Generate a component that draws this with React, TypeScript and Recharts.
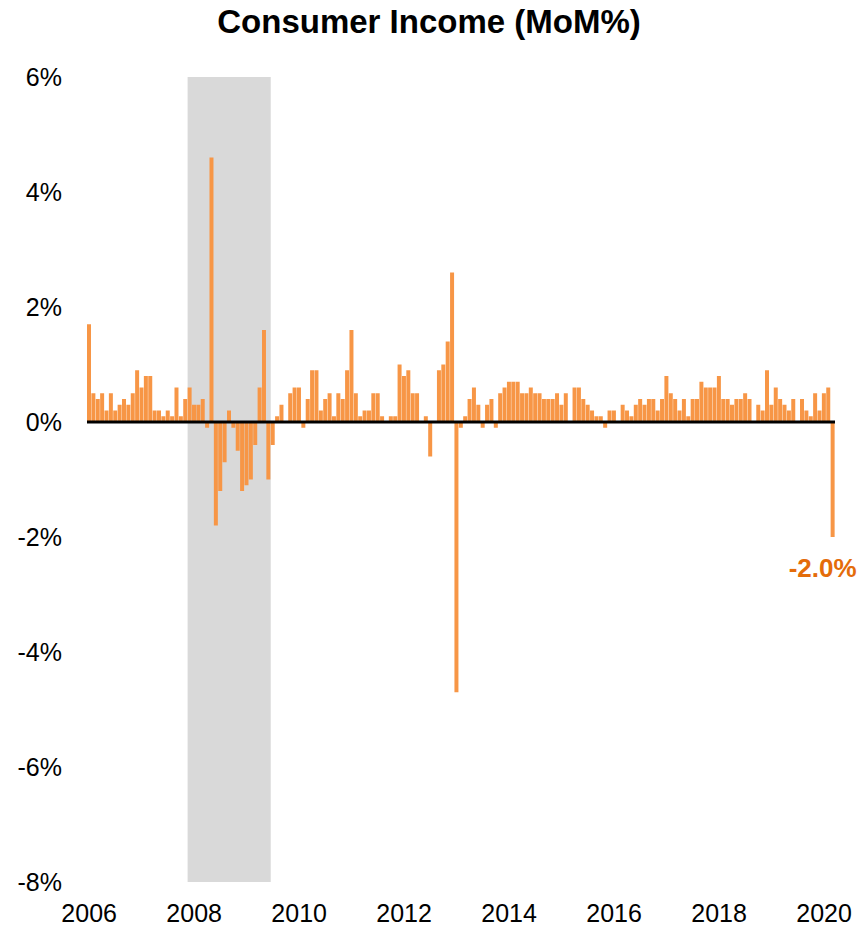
import React from 'react';
import { ComposedChart, Bar, LabelList, XAxis, YAxis, ReferenceArea, ReferenceLine } from 'recharts';

// monthly % change in personal income, Jan 2006 - Mar 2020
const years = [2006, 2007, 2008, 2009, 2010, 2011, 2012, 2013, 2014, 2015, 2016, 2017, 2018, 2019, 2020];

const income2006 = [1.7, 0.5, 0.4, 0.5, 0.2, 0.5, 0.2, 0.3, 0.4, 0.3, 0.5, 0.9];
const income2007 = [0.6, 0.8, 0.8, 0.2, 0.2, 0.1, 0.2, 0.1, 0.6, 0.1, 0.4, 0.6];
const income2008 = [0.3, 0.3, 0.4, -0.1, 4.6, -1.8, -1.2, -0.7, 0.2, -0.1, -0.5, -1.2];
const income2009 = [-1.1, -1.0, -0.4, 0.6, 1.6, -1.0, -0.4, 0.1, 0.3, 0.0, 0.5, 0.6];
const income2010 = [0.6, -0.1, 0.4, 0.9, 0.9, 0.2, 0.4, 0.5, 0.1, 0.5, 0.4, 0.9];
const income2011 = [1.6, 0.5, 0.1, 0.2, 0.2, 0.5, 0.5, 0.1, 0.0, 0.1, 0.1, 1.0];
const income2012 = [0.8, 0.9, 0.5, 0.5, 0.0, 0.1, -0.6, 0.0, 0.9, 1.0, 1.4, 2.6];
const income2013 = [-4.7, -0.1, 0.1, 0.4, 0.6, 0.3, -0.1, 0.3, 0.4, -0.1, 0.5, 0.6];
const income2014 = [0.7, 0.7, 0.7, 0.5, 0.5, 0.6, 0.5, 0.5, 0.4, 0.4, 0.4, 0.5];
const income2015 = [0.3, 0.5, 0.0, 0.6, 0.6, 0.4, 0.3, 0.2, 0.1, 0.1, -0.1, 0.2];
const income2016 = [0.2, 0.0, 0.3, 0.2, 0.1, 0.3, 0.4, 0.3, 0.4, 0.4, 0.2, 0.4];
const income2017 = [0.8, 0.5, 0.4, 0.2, 0.4, 0.1, 0.4, 0.4, 0.7, 0.6, 0.6, 0.6];
const income2018 = [0.8, 0.4, 0.4, 0.3, 0.4, 0.4, 0.5, 0.4, 0.0, 0.3, 0.2, 0.9];
const income2019 = [0.3, 0.6, 0.4, 0.3, 0.2, 0.4, 0.0, 0.4, 0.2, 0.1, 0.5, 0.2];
const income2020 = [0.5, 0.6, -2.0];

const incomeByYear = [
    income2006, income2007, income2008, income2009, income2010, income2011, income2012,
    income2013, income2014, income2015, income2016, income2017, income2018, income2019, income2020,
];

const yTicks = [-8, -6, -4, -2, 0, 2, 4, 6];
const recessionStart = '2007-12';
const recessionEnd = '2009-06';

const data = years.flatMap((year, i) =>
    incomeByYear[i].map((value, m) => ({
        month: `${year}-${String(m + 1).padStart(2, '0')}`,
        value,
    }))
);
// only the latest reading gets a callout
data[data.length - 1].note = data[data.length - 1].value;

const FONT = '"Liberation Sans", Arial, sans-serif';

const LastLabel = (props: any) => {
    const { x, y, width, height, value } = props;
    if (value === undefined || value === null) return null;
    const bottom = Math.max(y, y + height);
    return (
        <text x={x + width + 22} y={bottom + 40} textAnchor="end" fill="#E46C0A"
            fontFamily={FONT} fontWeight="bold" fontSize={26}>
            {`${Number(value).toFixed(1)}%`}
        </text>
    );
};

const App: React.FC = () => {
    return (
        <div style={{ position: 'absolute', left: 0, top: 0, width: 858, height: 926, background: '#fff', fontFamily: FONT }}>
            <div style={{ position: 'absolute', left: 0, top: 3, width: 858, textAlign: 'center', fontSize: 33, fontWeight: 'bold', color: '#000' }}>
                Consumer Income (MoM%)
            </div>
            <ComposedChart width={858} height={926} data={data} barCategoryGap={0}
                margin={{ top: 77, right: 23, bottom: 0, left: 0 }}>
                <ReferenceArea x1={recessionStart} x2={recessionEnd} y1={-8} y2={6} fill="#D9D9D9" fillOpacity={1} stroke="none" />
                <XAxis dataKey="month" interval={23} height={44} axisLine={false} tickLine={false} tickMargin={16}
                    tick={{ fill: '#000', fontSize: 25, fontFamily: FONT }}
                    tickFormatter={(v: string) => v.slice(0, 4)} />
                <YAxis domain={[-8, 6]} ticks={yTicks} width={87} axisLine={false} tickLine={false} tickMargin={19}
                    tick={{ fill: '#000', fontSize: 25, fontFamily: FONT }}
                    tickFormatter={(v: number) => `${v}%`} />
                <Bar dataKey="value" fill="#F79646" isAnimationActive={false}>
                    <LabelList dataKey="note" content={<LastLabel />} />
                </Bar>
                <ReferenceLine y={0} stroke="#000" strokeWidth={3} />
            </ComposedChart>
        </div>
    );
};

export default App;
